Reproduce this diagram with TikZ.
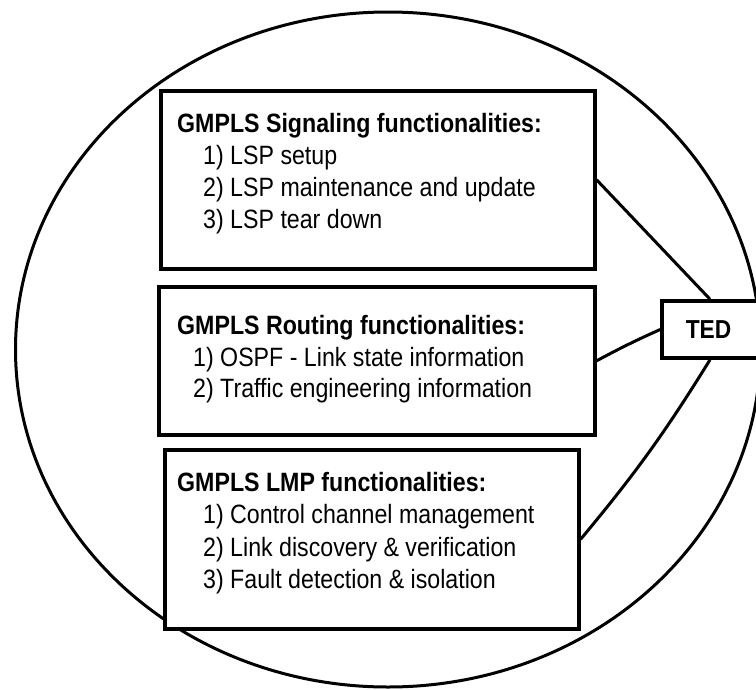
\documentclass[tikz,border=0pt]{standalone}
\usepackage{fontspec}
\usepackage{graphicx}
\setmainfont{Liberation Sans}
\newcommand\condtxt[1]{\scalebox{0.875}[1]{#1}}
\begin{document}
\begin{tikzpicture}[x=1pt,y=-1pt,
  fbox/.style={draw, line width=3.6pt, anchor=north west, inner sep=0pt},
  head/.style={anchor=base west, inner sep=0pt, font=\fontsize{26.5}{26.5}\selectfont\bfseries},
  item/.style={anchor=base west, inner sep=0pt, font=\fontsize{26.5}{26.5}\selectfont},
  conn/.style={line width=3pt}]
\useasboundingbox (0,0) rectangle (756,689);
\draw[line width=3pt] (388,349.5) ellipse [x radius=372.5, y radius=337.5];
% boxes
\node[fbox, minimum width=434pt, minimum height=178pt, fill=white] (sig) at (159,89) {};
\node[fbox, minimum width=436pt, minimum height=148pt, fill=white] (rout) at (157,285) {};
\node[fbox, minimum width=414pt, minimum height=179pt, fill=white] (lmp) at (163,448) {};
\node[draw, line width=3.6pt, minimum width=100pt, minimum height=57pt, inner sep=0pt, fill=white] (ted) at (712,329.5) {};
\node[anchor=center, inner sep=0pt, font=\fontsize{26}{26}\selectfont\bfseries] (tedtxt) at (708.5,329.5) {\condtxt{TED}};
% texts
\node[head] (sig0) at (177,132) {\condtxt{GMPLS Signaling functionalities:}};
\node[item] (sig1) at (203,164) {\condtxt{1) LSP setup}};
\node[item] (sig2) at (203,196) {\condtxt{2) LSP maintenance and update}};
\node[item] (sig3) at (203,228) {\condtxt{3) LSP tear down}};
\node[head] (rout0) at (177,334) {\condtxt{GMPLS Routing functionalities:}};
\node[item] (rout1) at (193,366) {\condtxt{1) OSPF - Link state information}};
\node[item] (rout2) at (193,397) {\condtxt{2) Traffic engineering information}};
\node[head] (lmp0) at (177,491) {\condtxt{GMPLS LMP functionalities:}};
\node[item] (lmp1) at (203,523) {\condtxt{1) Control channel management}};
\node[item] (lmp2) at (203,556) {\condtxt{2) Link discovery \& verification}};
\node[item] (lmp3) at (203,588) {\condtxt{3) Fault detection \& isolation}};
% connectors
\draw[conn] (sig.east) -- ([xshift=-2pt]ted.north);
\draw[conn] (rout.east) to[bend left=2] (ted.west);
\draw[conn] (lmp.east) to[bend right=4] ([xshift=-2pt]ted.south);
\end{tikzpicture}
\end{document}
